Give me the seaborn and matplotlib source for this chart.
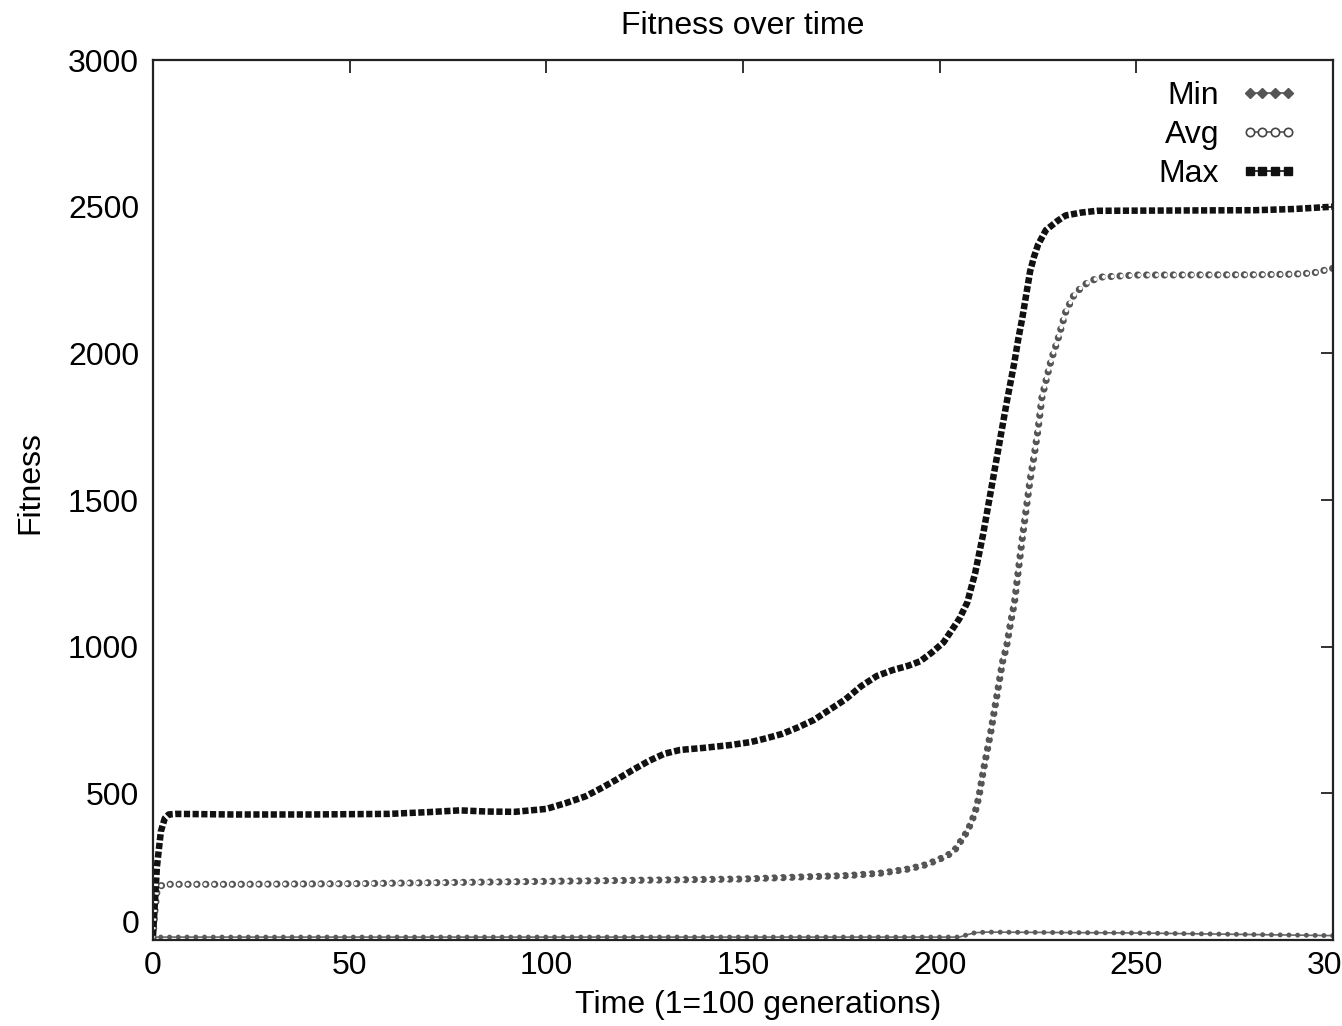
import pandas as pd
import matplotlib
matplotlib.use("Agg")
import matplotlib.pyplot as plt
import seaborn as sns
from matplotlib.lines import Line2D

# --- data ---
max_time = [0, 1, 2, 3, 4, 6, 20, 40, 60, 70, 78, 85, 92, 100, 105, 110, 114, 118,
            122, 126, 130, 134, 140, 147, 152, 156, 160, 164, 168, 172, 176, 180,
            184, 188, 192, 195, 198, 201, 203, 205, 207, 209, 211, 213, 215, 217,
            219, 220, 221, 222, 223, 224, 225, 227, 230, 232, 236, 240, 260, 280,
            290, 300]
max_fit = [15, 250, 370, 415, 428, 430, 428, 428, 430, 436, 442, 438, 437, 447, 467,
           490, 518, 548, 580, 610, 635, 648, 655, 665, 675, 688, 703, 725, 750, 785,
           820, 865, 900, 920, 935, 950, 980, 1015, 1055, 1095, 1150, 1250, 1380,
           1530, 1680, 1830, 1970, 2050, 2120, 2200, 2280, 2330, 2370, 2420, 2452,
           2470, 2480, 2486, 2487, 2488, 2492, 2500]

avg_time = [0, 0.5, 1, 2, 4, 20, 50, 100, 150, 165, 177, 185, 192, 196, 199, 202,
            204, 205.5, 207, 208, 209, 210, 211, 212, 213, 214, 215, 216, 217, 218,
            219, 220, 221, 222, 223, 224, 225, 226, 227, 228, 229, 230, 232, 234,
            236, 238, 241, 250, 280, 290, 295, 300]
avg_fit = [10, 100, 165, 185, 190, 190, 192, 200, 208, 215, 220, 228, 242, 255, 270,
           288, 310, 340, 370, 400, 435, 490, 570, 640, 710, 790, 870, 950, 1000,
           1080, 1150, 1260, 1370, 1470, 1570, 1650, 1740, 1850, 1905, 1960, 2005,
           2045, 2140, 2195, 2225, 2245, 2260, 2267, 2268, 2270, 2274, 2290]

min_time = [0, 1, 100, 205, 207, 209, 212, 250, 300]
min_fit = [0, 10, 10, 10, 18, 25, 27, 24, 15]

x_ticks = [0, 50, 100, 150, 200, 250, 300]
y_ticks = [0, 500, 1000, 1500, 2000, 2500, 3000]

df = pd.concat([
    pd.DataFrame({"time": min_time, "fitness": min_fit, "series": "Min"}),
    pd.DataFrame({"time": avg_time, "fitness": avg_fit, "series": "Avg"}),
    pd.DataFrame({"time": max_time, "fitness": max_fit, "series": "Max"}),
], ignore_index=True)

sns.set_style("white")
plt.rcParams['font.family'] = ['Liberation Sans', 'DejaVu Sans']
plt.rcParams['text.color'] = 'black'
plt.rcParams['axes.labelcolor'] = 'black'
plt.rcParams['xtick.color'] = 'black'
plt.rcParams['ytick.color'] = 'black'

fig = plt.figure(figsize=(13.42, 10.26), dpi=100)
ax = fig.add_axes([0.114, 0.0838, 0.8793, 0.8577])

mn = df[df.series == "Min"]
av = df[df.series == "Avg"]
mx = df[df.series == "Max"]

# Min: thin line with beads
sns.lineplot(data=mn, x="time", y="fitness", ax=ax, color="#666666", lw=1.2,
             estimator=None, sort=False)
sns.lineplot(data=mn, x="time", y="fitness", ax=ax, color="#5a5a5a", lw=3.6,
             linestyle=(0, (0.01, 1.74)), dash_capstyle="round",
             estimator=None, sort=False)

# Avg: open circles (grey dots with white centres)
sns.lineplot(data=av, x="time", y="fitness", ax=ax, color="#555555", lw=5.2,
             linestyle=(0, (0.01, 1.22)), dash_capstyle="round",
             estimator=None, sort=False)
sns.lineplot(data=av, x="time", y="fitness", ax=ax, color="white", lw=2.8,
             linestyle=(0, (0.01, 2.263)), dash_capstyle="round",
             estimator=None, sort=False)

# Max: filled squares
sns.lineplot(data=mx, x="time", y="fitness", ax=ax, color="#111111", lw=4.7,
             linestyle=(0, (0.95, 0.38)), dash_capstyle="butt",
             estimator=None, sort=False)

ax.set_xlim(0, 300)
ax.set_ylim(0, 3000)
ax.set_xticks(x_ticks)
ax.set_yticks(y_ticks)
ax.tick_params(direction="in", length=9, width=1.3, top=True, right=True,
               labelsize=23, pad=10, color="#222222")
ax.tick_params(axis="x", pad=8)
ax.get_yticklabels()[0].set_va("bottom")
for s in ax.spines.values():
    s.set_linewidth(1.6)
    s.set_color("#222222")

ax.set_title("Fitness over time", fontsize=23, pad=19)
ax.set_xlabel("Time (1=100 generations)", fontsize=23)
ax.set_ylabel("Fitness", fontsize=23)
ax.xaxis.set_label_coords(0.513, -0.074)
ax.yaxis.set_label_coords(-0.104, 0.52)
ax.xaxis.label.set_va("center")
ax.yaxis.label.set_va("center")

handles = [
    Line2D([], [], color="#555555", lw=1.2, marker="D", markersize=5.5,
           markerfacecolor="#555555", markeredgecolor="#555555"),
    Line2D([], [], color="#555555", lw=1.2, marker="o", markersize=6,
           markerfacecolor="white", markeredgecolor="#444444", markeredgewidth=1.2),
    Line2D([], [], color="#111111", lw=1.2, marker="s", markersize=6,
           markerfacecolor="#111111", markeredgecolor="#111111"),
]
ax.legend(handles, ["Min", "Avg", "Max"], loc="upper right", frameon=False,
          markerfirst=False, numpoints=4, fontsize=23, handlelength=1.8,
          handletextpad=0.65, labelspacing=0.28, borderpad=0, borderaxespad=0,
          bbox_to_anchor=(0.97, 0.976))

fig.savefig("out.png", dpi=100)
